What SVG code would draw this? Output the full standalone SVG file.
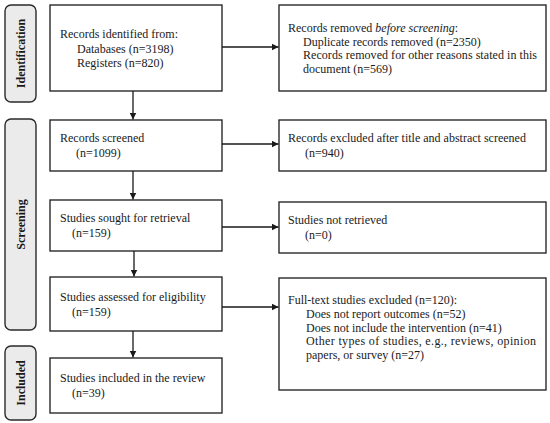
<svg xmlns="http://www.w3.org/2000/svg" width="550" height="423" viewBox="0 0 550 423">
<defs>
<marker id="ah" viewBox="0 0 10 10" refX="10" refY="5" markerWidth="7" markerHeight="7" markerUnits="userSpaceOnUse" orient="auto">
<path d="M0,0 L10,5 L0,10 z" fill="#1a1a1a"/>
</marker>
<style>
.box{fill:#fff;stroke:#2a2a2a;stroke-width:1.4}
.lab{fill:#ebebeb;stroke:#2a2a2a;stroke-width:1.4}
.t{font-family:"Liberation Serif","Times New Roman",serif;font-size:12px;fill:#1a1a1a}
.lt{font-family:"Liberation Serif","Times New Roman",serif;font-size:12px;font-weight:bold;fill:#1a1a1a}
.c{stroke:#1a1a1a;stroke-width:1.3;fill:none;marker-end:url(#ah)}
</style>
</defs>
<rect width="550" height="423" fill="#fff"/>

<g id="label-identification">
<rect class="lab" x="5" y="5" width="31" height="97" rx="6"/>
<text class="lt" transform="translate(25,53.5) rotate(-90)" text-anchor="middle">Identification</text>
</g>
<g id="label-screening">
<rect class="lab" x="5" y="119" width="31" height="211" rx="6"/>
<text class="lt" transform="translate(25,224.5) rotate(-90)" text-anchor="middle">Screening</text>
</g>
<g id="label-included">
<rect class="lab" x="5" y="346" width="31" height="74" rx="6"/>
<text class="lt" transform="translate(25,383) rotate(-90)" text-anchor="middle">Included</text>
</g>

<g id="n-identified">
<rect class="box" x="50" y="5" width="172" height="86"/>
<text class="t" x="60" y="38">Records identified from:</text>
<text class="t" x="77" y="52.5">Databases (n=3198)</text>
<text class="t" x="77" y="67">Registers (n=820)</text>
</g>
<g id="n-removed">
<rect class="box" x="279" y="5" width="267" height="86"/>
<text class="t" x="288" y="32">Records removed <tspan font-style="italic">before screening</tspan>:</text>
<text class="t" x="303" y="45.5">Duplicate records removed (n=2350)</text>
<text class="t" x="303" y="59" textLength="234" lengthAdjust="spacing">Records removed for other reasons stated in this</text>
<text class="t" x="303" y="72.5">document (n=569)</text>
</g>
<g id="n-screened">
<rect class="box" x="50" y="120" width="172" height="51"/>
<text class="t" x="60" y="142">Records screened</text>
<text class="t" x="76" y="157">(n=1099)</text>
</g>
<g id="n-excluded">
<rect class="box" x="279" y="120" width="267" height="51"/>
<text class="t" x="288" y="142">Records excluded after title and abstract screened</text>
<text class="t" x="305" y="157">(n=940)</text>
</g>
<g id="n-sought">
<rect class="box" x="50" y="200" width="172" height="51"/>
<text class="t" x="60" y="222">Studies sought for retrieval</text>
<text class="t" x="72" y="237">(n=159)</text>
</g>
<g id="n-notretrieved">
<rect class="box" x="279" y="202" width="267" height="51"/>
<text class="t" x="288" y="224">Studies not retrieved</text>
<text class="t" x="305" y="238.5">(n=0)</text>
</g>
<g id="n-assessed">
<rect class="box" x="50" y="277" width="172" height="54"/>
<text class="t" x="60" y="301">Studies assessed for eligibility</text>
<text class="t" x="72" y="315.5">(n=159)</text>
</g>
<g id="n-fulltext">
<rect class="box" x="279" y="278" width="267" height="112"/>
<text class="t" x="288" y="304">Full-text studies excluded (n=120):</text>
<text class="t" x="306" y="318">Does not report outcomes (n=52)</text>
<text class="t" x="306" y="331.5">Does not include the intervention (n=41)</text>
<text class="t" x="306" y="345" textLength="230" lengthAdjust="spacing">Other types of studies, e.g., reviews, opinion</text>
<text class="t" x="306" y="358.5">papers, or survey (n=27)</text>
</g>
<g id="n-included">
<rect class="box" x="50" y="358" width="172" height="55"/>
<text class="t" x="60" y="382">Studies included in the review</text>
<text class="t" x="72" y="396.5">(n=39)</text>
</g>

<g id="connectors">
<line class="c" x1="222" y1="47" x2="278.5" y2="47"/>
<line class="c" x1="133" y1="91" x2="133" y2="119.5"/>
<line class="c" x1="222" y1="144" x2="278.5" y2="144"/>
<line class="c" x1="133" y1="171" x2="133" y2="199.5"/>
<line class="c" x1="222" y1="227" x2="278.5" y2="227"/>
<line class="c" x1="134" y1="251" x2="134" y2="276.5"/>
<line class="c" x1="222" y1="307" x2="278.5" y2="307"/>
<line class="c" x1="133" y1="331" x2="133" y2="357.5"/>
</g>
</svg>
